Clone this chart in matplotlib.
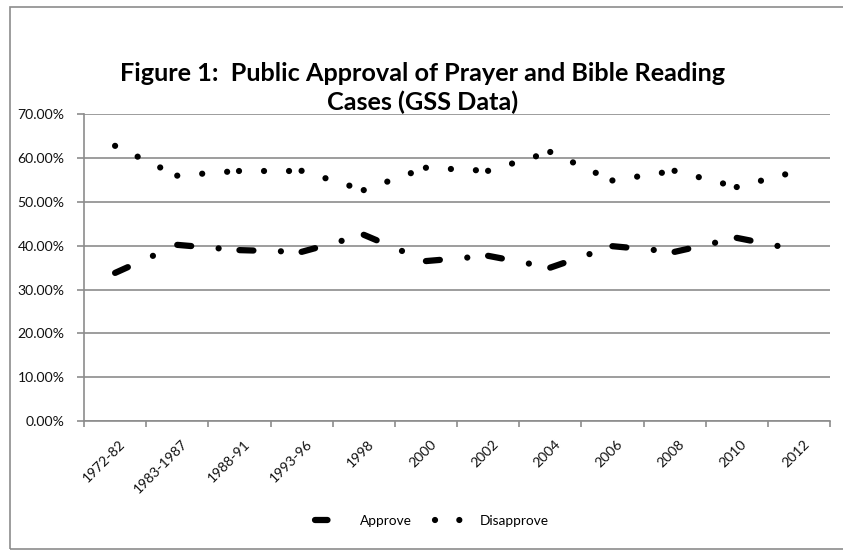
import matplotlib
matplotlib.use("Agg")
import matplotlib.pyplot as plt
from matplotlib.lines import Line2D
from matplotlib.patches import Rectangle
from matplotlib.transforms import ScaledTranslation

plt.rcParams['font.family'] = ['Lato', 'DejaVu Sans']
plt.rcParams['lines.scale_dashes'] = False

categories = ['1972-82', '1983-1987', '1988-91', '1993-96', '1998', '2000',
              '2002', '2004', '2006', '2008', '2010', '2012']
approve = [33.8, 40.2, 39.0, 38.6, 42.5, 36.5, 37.7, 35.0, 39.9, 38.6, 41.8, 39.0]
disapprove = [62.8, 56.0, 57.1, 57.1, 52.7, 57.8, 57.1, 61.4, 54.9, 57.1, 53.4, 57.1]
yticks = [0, 10, 20, 30, 40, 50, 60, 70]

W, H = 843, 550
fig = plt.figure(figsize=(W / 100, H / 100), dpi=100)

# outer chart frame
fig.patches.append(Rectangle((10 / W, 1 - 549 / H), (W + 20 - 10) / W, (549 - 7) / H,
                             transform=fig.transFigure, fill=False,
                             edgecolor='#8c8c8c', lw=1.2, clip_on=False))

ax = fig.add_axes([84 / W, 1 - 421 / H, (830 - 84) / W, (421 - 114.3) / H])

GRID = '#8c8c8c'
x = list(range(len(categories)))
LW = 4.5
px = 0.72
app_dash = (14 * px, 27.5 * px, 0.01, 60 * px)
dis_dash = (0.01, 25 * px)
for i in range(len(x) - 1):
    ax.plot(x[i:i + 2], approve[i:i + 2], color='black', lw=LW, dashes=app_dash,
            dash_capstyle='round', solid_capstyle='round', zorder=3, clip_on=False)
    ax.plot(x[i:i + 2], disapprove[i:i + 2], color='black', lw=LW, dashes=dis_dash,
            dash_capstyle='round', solid_capstyle='round', zorder=3, clip_on=False)

ax.set_xlim(-0.5, len(categories) - 0.5)
ax.set_ylim(0, 70)
ax.set_yticks(yticks)
ax.set_yticklabels([f'{v:.2f}%' for v in yticks])
ax.yaxis.grid(True, color=GRID, lw=1.2)
ax.set_axisbelow(True)

ax.set_xticks([i - 0.5 for i in range(len(categories) + 1)])
ax.set_xticklabels([])
ax.set_xticks(x, minor=True)
ax.set_xticklabels(categories, minor=True, rotation=45, ha='right', va='top',
                   rotation_mode='anchor', fontsize=10.1, color='#111111')
ax.tick_params(axis='x', which='minor', length=0, pad=12)
ax.tick_params(axis='x', which='major', length=4, color=GRID, width=1.2)
ax.tick_params(axis='y', length=5, color=GRID, width=1.2, pad=9,
               labelsize=10.1, labelcolor='#111111')
for lab in ax.get_xticklabels(minor=True):
    lab.set_transform(lab.get_transform() + ScaledTranslation(4 / 100, 0, fig.dpi_scale_trans))

for s in ['top', 'right']:
    ax.spines[s].set_visible(False)
for s in ['left', 'bottom']:
    ax.spines[s].set_color(GRID)
    ax.spines[s].set_linewidth(1.2)

fig.text(423 / W, 1 - 88 / H, 'Figure 1:  Public Approval of Prayer and Bible Reading\nCases (GSS Data)',
         ha='center', va='center', fontsize=18.2, fontweight='bold', linespacing=1.3,
         color='#000000')

h_app = Line2D([], [], color='black', lw=LW, dashes=(12.5 * px, 60 * px),
               dash_capstyle='round')
h_dis = Line2D([], [], color='black', lw=LW, dashes=(0.01, 24.3 * px),
               dash_capstyle='round')
fig.legend([h_app, h_dis], ['Approve', 'Disapprove'], loc='center',
           bbox_to_anchor=(432 / W, 1 - 521 / H), ncol=2, frameon=False,
           fontsize=9.8, handlelength=1.8, handletextpad=1.5, columnspacing=1.7)

fig.savefig('out.png', dpi=100)
